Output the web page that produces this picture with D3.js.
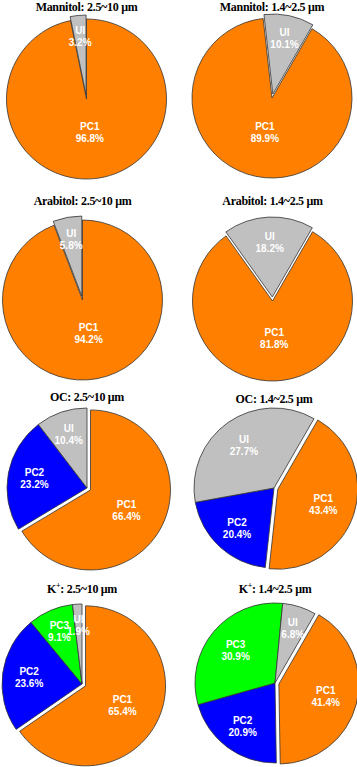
<!DOCTYPE html>
<html lang="en">
<head>
<meta charset="utf-8">
<title>Source contributions</title>
<script src="https://cdn.jsdelivr.net/npm/d3@7/dist/d3.min.js"></script>
<style>
body { margin: 0; background: #fff; }
.title { font: bold 12px "Liberation Serif", "Times New Roman", serif; letter-spacing: -0.3px; text-anchor: middle; fill: #000; }
.lbl { font: bold 10px "Liberation Sans", Arial, sans-serif; fill: #fff; text-anchor: middle; }
.slice { stroke: #333; stroke-width: 0.8; }
</style>
</head>
<body>
<div id="chart"></div>
<script>
// species + size range of every pie (left column 2.5~10, right column 1.4~2.5)
var species = ["Mannitol", "Mannitol", "Arabitol", "Arabitol", "OC", "OC", "K", "K"];
var charge  = ["", "", "", "", "", "", "+", "+"];
var sizes   = ["2.5~10 μm", "1.4~2.5 μm", "2.5~10 μm", "1.4~2.5 μm", "2.5~10 μm", "1.4~2.5 μm", "2.5~10 μm", "1.4~2.5 μm"];

// factors and their reported shares (%)
var factors = [
  ["PC1", "UI"], ["PC1", "UI"],
  ["PC1", "UI"], ["PC1", "UI"],
  ["PC1", "PC2", "UI"], ["PC1", "PC2", "UI"],
  ["PC1", "PC2", "PC3", "UI"], ["PC1", "PC2", "PC3", "UI"]
];
var shares = [
  [96.8, 3.2], [89.9, 10.1],
  [94.2, 5.8], [81.8, 18.2],
  [66.4, 23.2, 10.4], [43.4, 20.4, 27.7],
  [65.4, 23.6, 9.1, 1.9], [41.4, 20.9, 30.9, 6.8]
];
// which slice is pulled out of each pie
var pulled = ["UI", "UI", "UI", "UI", "PC1", "PC1", "PC1", "PC1"];

var colors = { PC1: "#ff8000", PC2: "#0000ff", PC3: "#00ff00", UI: "#c0c0c0" };

// layout: pie centres and title baselines
var layout = [
  { cx: 86.5, cy: 99, ty: 11 }, { cx: 272, cy: 98, ty: 11 },
  { cx: 82.5, cy: 300, ty: 205 }, { cx: 272.5, cy: 301, ty: 205 },
  { cx: 87, cy: 488, ty: 401 }, { cx: 274, cy: 488, ty: 403 },
  { cx: 82, cy: 684, ty: 593 }, { cx: 275, cy: 683, ty: 593 }
];
var r = 80, pull = 4;

var svg = d3.select("#chart").append("svg")
  .attr("width", 357)
  .attr("height", 767);

var arc = d3.arc().innerRadius(0).outerRadius(r);

species.forEach(function(sp, i) {
  var L = layout[i];
  // UI slice takes whatever is left to 100 %
  var rows = factors[i].map(function(f, j) {
    return { name: f, share: shares[i][j] };
  });
  var known = d3.sum(rows.filter(function(d) { return d.name != "UI"; }), function(d) { return d.share; });
  rows.forEach(function(d) { d.value = d.name == "UI" ? 100 - known : d.share; });

  var start = (i % 2 == 0) ? 0 : 30 * Math.PI / 180;
  var pie = d3.pie().sort(null).value(function(d) { return d.value; })
    .startAngle(start).endAngle(start + 2 * Math.PI);

  var g = svg.append("g").attr("transform", "translate(" + L.cx + "," + L.cy + ")");

  var t = svg.append("text").attr("class", "title")
    .attr("x", L.cx).attr("y", L.ty);
  t.append("tspan").text(sp);
  if (charge[i]) {
    t.append("tspan").attr("dy", -5).style("font-size", "8px").text(charge[i]);
    t.append("tspan").attr("dy", 5).text(": " + sizes[i]);
  } else {
    t.append("tspan").text(": " + sizes[i]);
  }

  var slices = g.selectAll(".s").data(pie(rows)).enter().append("g")
    .attr("transform", function(d) {
      if (d.data.name != pulled[i]) return null;
      var a = (d.startAngle + d.endAngle) / 2;
      return "translate(" + (pull * Math.sin(a)) + "," + (-pull * Math.cos(a)) + ")";
    });

  slices.append("path").attr("class", "slice")
    .attr("d", arc)
    .attr("fill", function(d) { return colors[d.data.name]; });

  var lbl = slices.append("text").attr("class", "lbl")
    .attr("transform", function(d) {
      var a = (d.startAngle + d.endAngle) / 2;
      var lr = r * (0.75 - 0.0035 * d.data.share); // bigger slices sit nearer the middle
      return "translate(" + (lr * Math.sin(a)) + "," + (-lr * Math.cos(a)) + ")";
    });
  lbl.append("tspan").attr("x", 0).attr("dy", -2).text(function(d) { return d.data.name; });
  lbl.append("tspan").attr("x", 0).attr("dy", 12).text(function(d) { return d.data.share.toFixed(1) + "%"; });
});
</script>
</body>
</html>
